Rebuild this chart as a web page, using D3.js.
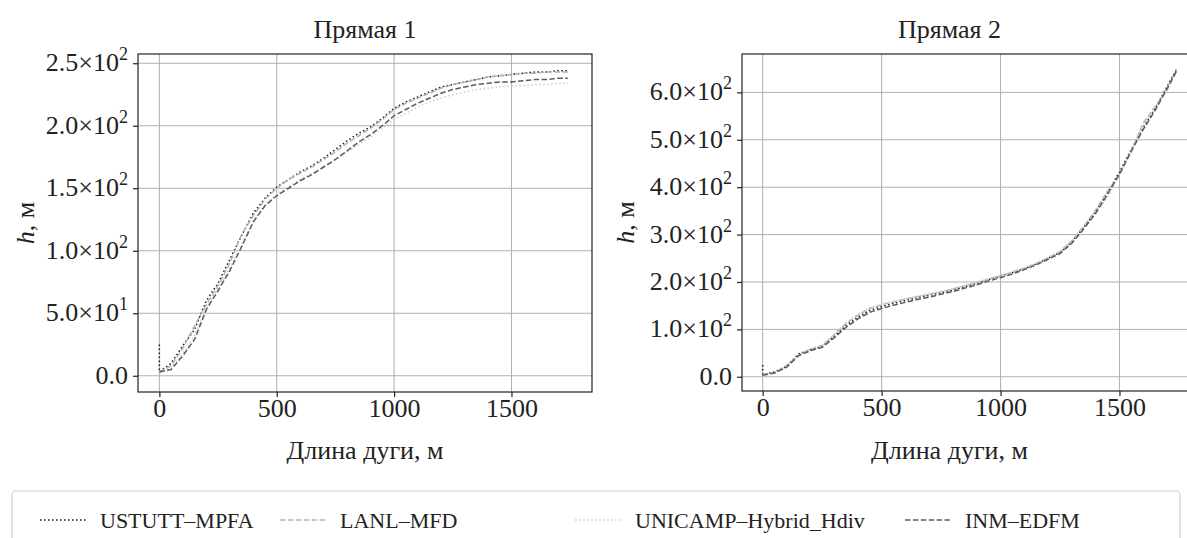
<!DOCTYPE html>
<html>
<head>
<meta charset="utf-8">
<script src="https://cdn.jsdelivr.net/npm/d3@7"></script>
<style>
  body { margin: 0; background: #fff; }
  text { font-family: "Liberation Serif", "DejaVu Serif", serif; fill: #222; }
</style>
</head>
<body>
<div id="chart"></div>
<script>
// arc length samples (the first point is repeated to draw the start spike)
var arcLen = [0, 0, 50, 100, 150, 200, 250, 300, 350, 400, 450, 500, 550, 600, 650, 700, 750, 800, 850, 900,
    950, 1000, 1050, 1100, 1150, 1200, 1250, 1300, 1350, 1400, 1450, 1500, 1550, 1600, 1650, 1700, 1740]

// Прямая 1
var line1Ustutt = [25, 3, 10, 24, 37, 60, 74, 93, 112, 130, 142, 151, 157, 163, 168, 174, 181, 188, 194, 199,
    206, 214, 219, 223, 227, 231, 233, 235, 237, 239, 240, 241, 242, 243, 243, 244, 244]
var line1Lanl = [3, 3, 8, 22, 40, 57, 72, 90, 113, 128, 141, 150, 157, 162, 167, 173, 179, 186, 192, 198,
    205, 213, 218, 222, 226, 230, 233, 235, 237, 239, 240, 241, 242, 242, 243, 243, 243]
var line1Unicamp = [3, 3, 6, 18, 32, 55, 70, 86, 105, 124, 137, 145, 151, 157, 162, 167, 173, 179, 185, 191,
    198, 205, 210, 215, 219, 222, 225, 227, 229, 230, 231, 232, 232, 233, 233, 234, 234]
var line1Inm = [3, 3, 5, 16, 29, 53, 68, 84, 103, 123, 136, 144, 150, 156, 161, 167, 173, 180, 187, 193,
    200, 208, 213, 218, 222, 226, 229, 231, 233, 234, 235, 235, 236, 237, 237, 238, 238]

// Прямая 2
var line2Ustutt = [25, 5, 10, 22, 48, 57, 64, 85, 108, 126, 140, 148, 155, 161, 167, 172, 177, 183, 190, 197,
    205, 212, 220, 228, 238, 250, 262, 285, 315, 348, 388, 432, 480, 525, 566, 612, 648]
var line2Lanl = [5, 5, 8, 24, 45, 58, 66, 88, 112, 130, 144, 152, 158, 164, 169, 174, 179, 185, 192, 199,
    206, 213, 221, 229, 239, 251, 264, 287, 318, 352, 392, 425, 478, 535, 570, 605, 645]
var line2Unicamp = [5, 5, 9, 23, 46, 59, 67, 90, 114, 132, 146, 153, 159, 165, 170, 175, 180, 186, 193, 200,
    207, 214, 222, 230, 240, 252, 265, 288, 316, 350, 378, 428, 478, 530, 568, 610, 650]
var line2Inm = [3, 3, 8, 20, 44, 55, 62, 82, 104, 122, 136, 144, 151, 157, 163, 168, 174, 180, 187, 194,
    202, 209, 217, 226, 236, 248, 260, 282, 312, 345, 385, 428, 476, 522, 562, 608, 645]

var seriesNames = ["USTUTT–MPFA", "LANL–MFD", "UNICAMP–Hybrid_Hdiv", "INM–EDFM"]
var xTicks = [0, 500, 1000, 1500]
var yTicks1 = [0, 50, 100, 150, 200, 250]
var yTickLabels1 = [["0.0", ""], ["5.0×10", "1"], ["1.0×10", "2"], ["1.5×10", "2"], ["2.0×10", "2"], ["2.5×10", "2"]]
var yTicks2 = [0, 100, 200, 300, 400, 500, 600]
var yTickLabels2 = [["0.0", ""], ["1.0×10", "2"], ["2.0×10", "2"], ["3.0×10", "2"], ["4.0×10", "2"], ["5.0×10", "2"], ["6.0×10", "2"]]

var width = 1187
var height = 538

var styles = [
    { color: "#1a1a1a", dash: "1.5,2.5" },
    { color: "#b4b4b4", dash: "5.5,2.4" },
    { color: "#cbcbcb", dash: "1.5,2.5" },
    { color: "#5c5c5c", dash: "5.5,2.4" }
]

var svg = d3.select("#chart")
    .append("svg")
    .attr("width", width)
    .attr("height", height)

svg.append("rect").attr("width", width).attr("height", height).attr("fill", "#fff")

let drawPanel = (p) => {
    var x = d3.scaleLinear().domain(p.xDomain).range([p.left, p.right])
    var y = d3.scaleLinear().domain(p.yDomain).range([p.bottom, p.top])

    var g = svg.append("g")

    // clip so lines stay inside the axes
    var clipId = "clip" + p.id
    g.append("clipPath").attr("id", clipId)
        .append("rect")
        .attr("x", p.left).attr("y", p.top)
        .attr("width", p.right - p.left).attr("height", p.bottom - p.top)

    // grid
    g.selectAll(".vgrid").data(xTicks).enter().append("line")
        .attr("x1", d => x(d)).attr("x2", d => x(d))
        .attr("y1", p.top).attr("y2", p.bottom)
        .attr("stroke", "#b0b0b0").attr("stroke-width", 1)
    g.selectAll(".hgrid").data(p.yTicks).enter().append("line")
        .attr("x1", p.left).attr("x2", p.right)
        .attr("y1", d => y(d)).attr("y2", d => y(d))
        .attr("stroke", "#b0b0b0").attr("stroke-width", 1)

    // curves
    var line = d3.line()
        .x((d, i) => x(arcLen[i]))
        .y(d => y(d))

    g.append("g").attr("clip-path", "url(#" + clipId + ")")
        .selectAll("path")
        .data(p.series)
        .enter()
        .append("path")
        .attr("d", d => line(d))
        .attr("fill", "none")
        .attr("stroke", (d, i) => styles[i].color)
        .attr("stroke-dasharray", (d, i) => styles[i].dash)
        .attr("stroke-width", 1.5)

    // frame
    g.append("rect")
        .attr("x", p.left).attr("y", p.top)
        .attr("width", p.right - p.left).attr("height", p.bottom - p.top)
        .attr("fill", "none").attr("stroke", "#222").attr("stroke-width", 1.2)

    // axes ticks
    var xAxis = d3.axisBottom(x).tickValues(xTicks).tickSize(5).tickPadding(2).tickFormat(d3.format("d"))
    var xg = g.append("g").attr("transform", "translate(0," + p.bottom + ")").call(xAxis)
    xg.attr("font-family", null)
    xg.select(".domain").remove()
    xg.selectAll("line").attr("stroke", "#222").attr("stroke-width", 1.2)
    xg.selectAll("text").attr("font-size", 26).attr("fill", "#222")

    var yAxis = d3.axisLeft(y).tickValues(p.yTicks).tickSize(5).tickFormat("")
    var yg = g.append("g").attr("transform", "translate(" + p.left + ",0)").call(yAxis)
    yg.select(".domain").remove()
    yg.selectAll("line").attr("stroke", "#222").attr("stroke-width", 1.2)

    // tick labels with superscript exponent
    p.yTicks.forEach((t, i) => {
        var lab = p.yLabels[i]
        var txt = g.append("text")
            .attr("x", p.left - 10)
            .attr("y", y(t) + 8)
            .attr("text-anchor", "end")
            .attr("font-size", 26)
        txt.append("tspan").text(lab[0])
        if (lab[1] !== "") {
            txt.append("tspan").attr("dy", -11).attr("font-size", 18).text(lab[1])
        }
    })

    var cx = (p.left + Math.min(p.right, width)) / 2 + p.titleShift

    // title
    g.append("text")
        .attr("x", cx)
        .attr("y", 38)
        .attr("text-anchor", "middle")
        .attr("font-size", 26)
        .text(p.title)

    // x label
    g.append("text")
        .attr("x", cx)
        .attr("y", 459)
        .attr("text-anchor", "middle")
        .attr("font-size", 26)
        .text("Длина дуги, м")

    // y label
    var yl = g.append("text")
        .attr("transform", "translate(" + p.yLabelX + "," + ((p.top + p.bottom) / 2) + ") rotate(-90)")
        .attr("text-anchor", "middle")
        .attr("font-size", 26)
    yl.append("tspan").attr("font-style", "italic").text("h")
    yl.append("tspan").text(", м")
}

drawPanel({
    id: 1, title: "Прямая 1", left: 138, right: 592, top: 54, bottom: 392,
    xDomain: [-91, 1843], yDomain: [-13, 257.4], yTicks: yTicks1, yLabels: yTickLabels1,
    series: [line1Ustutt, line1Lanl, line1Unicamp, line1Inm], yLabelX: 34, titleShift: 0
})

drawPanel({
    id: 2, title: "Прямая 2", left: 742, right: 1197, top: 54, bottom: 391,
    xDomain: [-87, 1826], yDomain: [-30, 681], yTicks: yTicks2, yLabels: yTickLabels2,
    series: [line2Ustutt, line2Lanl, line2Unicamp, line2Inm], yLabelX: 634, titleShift: -15
})

// legend
var legend = svg.append("g")
legend.append("rect")
    .attr("x", 12).attr("y", 491)
    .attr("width", 1168).attr("height", 60)
    .attr("rx", 4)
    .attr("fill", "#fff").attr("stroke", "#cfcfcf").attr("stroke-width", 1.2)

var legendX = [40, 280, 575, 905]
seriesNames.forEach((name, i) => {
    legend.append("line")
        .attr("x1", legendX[i]).attr("x2", legendX[i] + 46)
        .attr("y1", 520).attr("y2", 520)
        .attr("stroke", styles[i].color)
        .attr("stroke-dasharray", styles[i].dash)
        .attr("stroke-width", 1.5)
    legend.append("text")
        .attr("x", legendX[i] + 60)
        .attr("y", 528)
        .attr("font-size", 22)
        .text(name)
})
</script>
</body>
</html>
